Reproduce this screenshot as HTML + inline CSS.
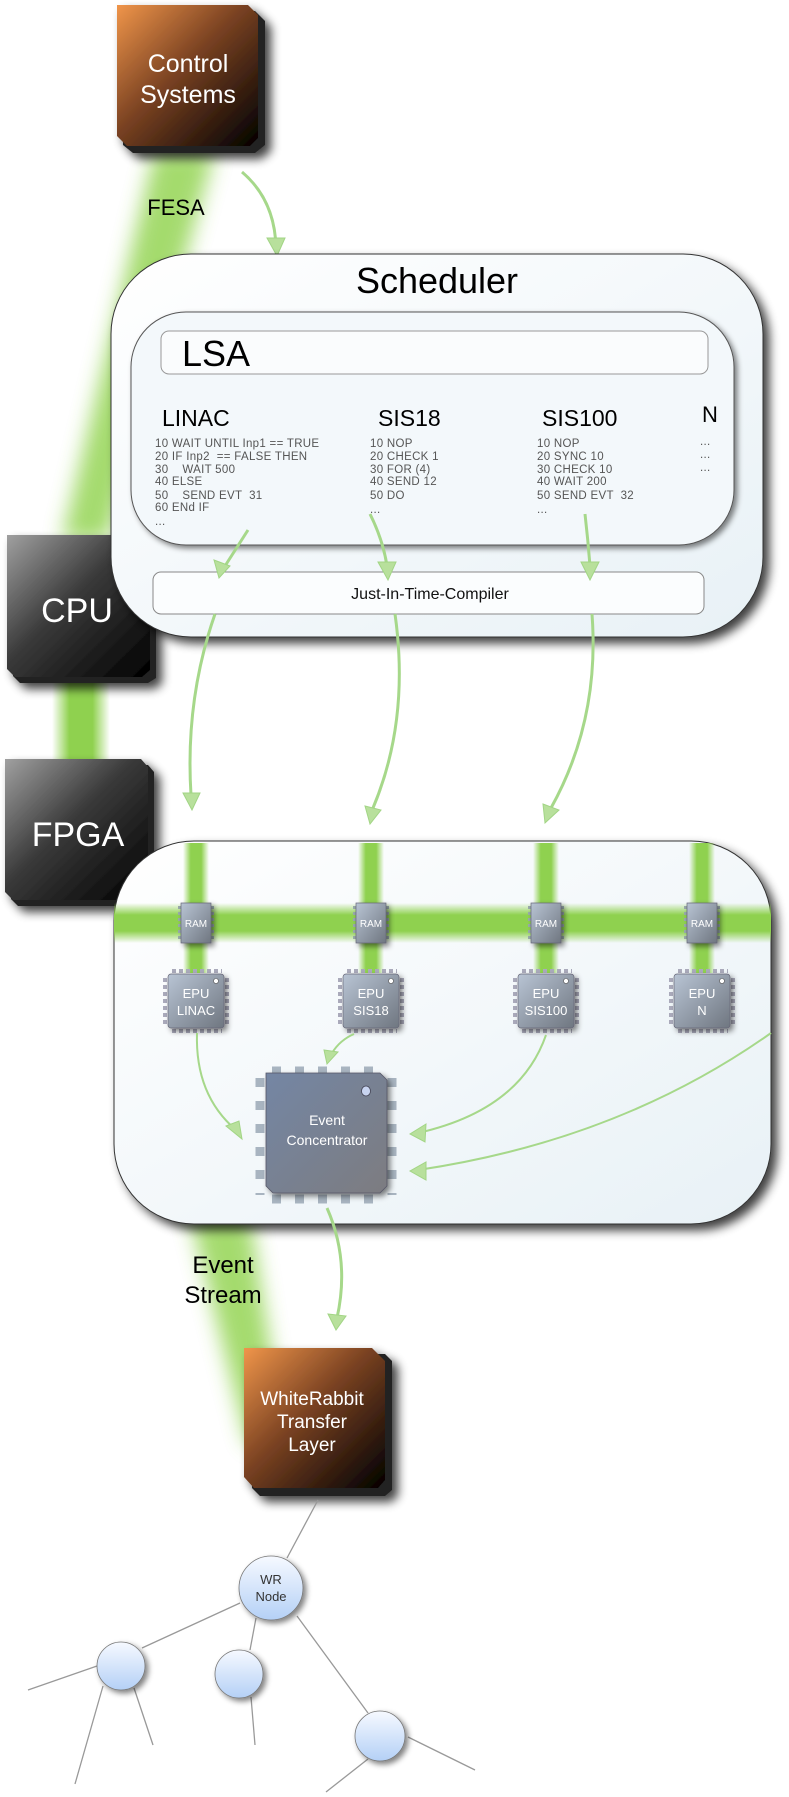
<!DOCTYPE html>
<html><head><meta charset="utf-8"><style>
html,body{margin:0;padding:0;background:#fff;}
svg{display:block;font-family:"Liberation Sans",sans-serif;}
.code text{white-space:pre;}
</style></head><body>
<svg width="789" height="1797" viewBox="0 0 789 1797" xmlns="http://www.w3.org/2000/svg">
<defs>
<filter id="blur" x="-50%" y="-20%" width="200%" height="140%"><feGaussianBlur stdDeviation="10"/></filter>
<filter id="sh" x="-10%" y="-10%" width="130%" height="130%"><feGaussianBlur in="SourceAlpha" stdDeviation="5"/><feOffset dx="6" dy="6"/><feComponentTransfer><feFuncA type="linear" slope="0.75"/></feComponentTransfer><feMerge><feMergeNode/><feMergeNode in="SourceGraphic"/></feMerge></filter>
<filter id="sh2" x="-20%" y="-20%" width="150%" height="150%"><feGaussianBlur in="SourceAlpha" stdDeviation="3"/><feOffset dx="3" dy="3"/><feComponentTransfer><feFuncA type="linear" slope="0.5"/></feComponentTransfer><feMerge><feMergeNode/><feMergeNode in="SourceGraphic"/></feMerge></filter>
<linearGradient id="org" x1="0" y1="0" x2="1" y2="1"><stop offset="0" stop-color="#f0954a"/><stop offset="0.45" stop-color="#7a4222"/><stop offset="1" stop-color="#000"/></linearGradient>
<linearGradient id="blk" x1="0" y1="0" x2="1" y2="1"><stop offset="0" stop-color="#a0a0a0"/><stop offset="0.45" stop-color="#3a3a3a"/><stop offset="1" stop-color="#000"/></linearGradient>
<linearGradient id="panel" x1="0" y1="0" x2="1" y2="1"><stop offset="0" stop-color="#ffffff"/><stop offset="1" stop-color="#e8f1f6"/></linearGradient>
<linearGradient id="chip" x1="0" y1="0" x2="1" y2="1"><stop offset="0" stop-color="#b8c4d4"/><stop offset="1" stop-color="#6f7680"/></linearGradient>
<linearGradient id="chip2" x1="0" y1="0" x2="1" y2="1"><stop offset="0" stop-color="#7486a4"/><stop offset="1" stop-color="#7c7c80"/></linearGradient>
<linearGradient id="node" x1="0" y1="0" x2="0" y2="1"><stop offset="0" stop-color="#f6f9ff"/><stop offset="1" stop-color="#b4d0f6"/></linearGradient>
<linearGradient id="hbus" x1="0" y1="0" x2="0" y2="1"><stop offset="0" stop-color="#8fd14f" stop-opacity="0"/><stop offset="0.3" stop-color="#8fd14f"/><stop offset="0.7" stop-color="#8fd14f"/><stop offset="1" stop-color="#8fd14f" stop-opacity="0"/></linearGradient>
<linearGradient id="vbus" x1="0" y1="0" x2="1" y2="0"><stop offset="0" stop-color="#8fd14f" stop-opacity="0"/><stop offset="0.3" stop-color="#8fd14f"/><stop offset="0.7" stop-color="#8fd14f"/><stop offset="1" stop-color="#8fd14f" stop-opacity="0"/></linearGradient>
</defs>

<!-- green beams -->
<polygon points="155,150 215,150 108,540 62,540" fill="#86cf3e" filter="url(#blur)" opacity="0.75"/>
<rect x="52" y="680" width="58" height="84" fill="url(#vbus)"/>
<polygon points="190,1215 250,1215 285,1445 248,1445" fill="#86cf3e" filter="url(#blur)" opacity="0.75"/>

<!-- Control Systems -->
<g filter="url(#sh)">
<polygon points="123,11 255,11 265,21 265,145 255,153 133,153 123,145" fill="#222"/>
<polygon points="117,5 248,5 258,15 258,138 250,146 127,146 117,136" fill="url(#org)"/>
</g>
<text x="188" y="72" font-size="25" fill="#fff" text-anchor="middle">Control</text>
<text x="188" y="103" font-size="25" fill="#fff" text-anchor="middle">Systems</text>
<text x="176" y="215" font-size="22" fill="#000" text-anchor="middle">FESA</text>
<path d="M242,172 Q275,200 276,248" fill="none" stroke="#a6d88a" stroke-width="3"/>
<polygon points="267,238 285,238 277,256" fill="#b8e09c" stroke="#a2d585"/>

<!-- CPU -->
<g filter="url(#sh)">
<polygon points="13,541 150,541 156,548 156,678 148,683 20,683 13,676" fill="#222"/>
<polygon points="7,535 143,535 150,543 150,670 142,677 15,677 7,669" fill="url(#blk)"/>
</g>
<text x="77" y="622" font-size="34" fill="#fff" text-anchor="middle">CPU</text>

<!-- Scheduler panel -->
<rect x="111" y="254" width="652" height="383" rx="80" ry="80" fill="url(#panel)" stroke="#333" stroke-width="1" filter="url(#sh)"/>
<text x="437" y="293" font-size="36" fill="#000" text-anchor="middle">Scheduler</text>
<rect x="131" y="312" width="603" height="233" rx="55" ry="55" fill="#f3f8fb" stroke="#555" stroke-width="1" filter="url(#sh2)"/>
<rect x="161" y="331" width="547" height="43" rx="8" fill="#fafcfd" stroke="#999" stroke-width="1"/>
<text x="182" y="366" font-size="36" fill="#000">LSA</text>
<text x="162" y="426" font-size="23" fill="#000">LINAC</text>
<text x="378" y="426" font-size="23" fill="#000">SIS18</text>
<text x="542" y="426" font-size="23" fill="#000">SIS100</text>
<text x="702" y="422" font-size="22" fill="#000">N</text>
<g class="code" font-size="11.5" fill="#555" letter-spacing="0.3">
<text x="155" y="447" xml:space="preserve">10 WAIT UNTIL Inp1 == TRUE</text>
<text x="155" y="460" xml:space="preserve">20 IF Inp2  == FALSE THEN</text>
<text x="155" y="473" xml:space="preserve">30    WAIT 500</text>
<text x="155" y="485" xml:space="preserve">40 ELSE</text>
<text x="155" y="499" xml:space="preserve">50    SEND EVT  31</text>
<text x="155" y="511" xml:space="preserve">60 ENd IF</text>
<text x="155" y="525">...</text>
<text x="370" y="447">10 NOP</text>
<text x="370" y="460">20 CHECK 1</text>
<text x="370" y="473">30 FOR (4)</text>
<text x="370" y="485">40 SEND 12</text>
<text x="370" y="499">50 DO</text>
<text x="370" y="513">...</text>
<text x="537" y="447">10 NOP</text>
<text x="537" y="460">20 SYNC 10</text>
<text x="537" y="473">30 CHECK 10</text>
<text x="537" y="485">40 WAIT 200</text>
<text x="537" y="499" xml:space="preserve">50 SEND EVT  32</text>
<text x="537" y="513">...</text>
<text x="700" y="445">...</text>
<text x="700" y="458">...</text>
<text x="700" y="471">...</text>
</g>
<rect x="153" y="572" width="551" height="42" rx="8" fill="#fbfdfe" stroke="#888" stroke-width="1"/>
<text x="430" y="599" font-size="16" fill="#111" text-anchor="middle">Just-In-Time-Compiler</text>

<!-- arrows in scheduler -->
<g fill="none" stroke="#a6d88a" stroke-width="3">
<path d="M248,530 L225,566"/>
<path d="M370,514 Q383,540 387,566"/>
<path d="M585,514 Q588,540 590,566"/>
<path d="M215,614 Q185,700 191,795"/>
<path d="M395,614 Q410,720 373,808"/>
<path d="M592,614 Q600,720 551,808"/>
</g>
<g fill="#b8e09c" stroke="#a2d585">
<polygon points="214,560 230,566 219,578"/>
<polygon points="378,562 396,562 388,580"/>
<polygon points="581,562 599,562 590,580"/>
<polygon points="183,793 200,793 192,810"/>
<polygon points="365,806 381,810 370,824"/>
<polygon points="543,804 559,810 545,823"/>
</g>

<!-- FPGA -->
<g filter="url(#sh)">
<polygon points="11,765 148,765 154,772 154,900 146,906 18,906 11,899" fill="#222"/>
<polygon points="5,759 141,759 148,767 148,893 140,900 13,900 5,892" fill="url(#blk)"/>
</g>
<text x="78" y="846" font-size="34" fill="#fff" text-anchor="middle">FPGA</text>

<!-- FPGA panel -->
<rect x="114" y="841" width="657" height="383" rx="80" ry="80" fill="url(#panel)" stroke="#333" stroke-width="1" filter="url(#sh)"/>
<rect x="114" y="903" width="657" height="40" fill="url(#hbus)"/>
<g>
<rect x="183" y="843" width="26" height="130" fill="url(#vbus)"/>
<rect x="358" y="843" width="26" height="130" fill="url(#vbus)"/>
<rect x="533" y="843" width="26" height="130" fill="url(#vbus)"/>
<rect x="689" y="843" width="26" height="130" fill="url(#vbus)"/>
</g>
<!-- RAM chips -->
<g font-size="10" fill="#fff" text-anchor="middle">
<g transform="translate(180,903)"><line x1="0" y1="3" x2="0" y2="38" stroke="#9aa" stroke-width="4" stroke-dasharray="3 3"/><line x1="32" y1="3" x2="32" y2="38" stroke="#9aa" stroke-width="4" stroke-dasharray="3 3"/><rect x="1" y="0" width="30" height="40" fill="url(#chip)" stroke="#667" stroke-width="0.7" filter="url(#sh2)"/><text x="16" y="24">RAM</text></g>
<g transform="translate(355,903)"><line x1="0" y1="3" x2="0" y2="38" stroke="#9aa" stroke-width="4" stroke-dasharray="3 3"/><line x1="32" y1="3" x2="32" y2="38" stroke="#9aa" stroke-width="4" stroke-dasharray="3 3"/><rect x="1" y="0" width="30" height="40" fill="url(#chip)" stroke="#667" stroke-width="0.7" filter="url(#sh2)"/><text x="16" y="24">RAM</text></g>
<g transform="translate(530,903)"><line x1="0" y1="3" x2="0" y2="38" stroke="#9aa" stroke-width="4" stroke-dasharray="3 3"/><line x1="32" y1="3" x2="32" y2="38" stroke="#9aa" stroke-width="4" stroke-dasharray="3 3"/><rect x="1" y="0" width="30" height="40" fill="url(#chip)" stroke="#667" stroke-width="0.7" filter="url(#sh2)"/><text x="16" y="24">RAM</text></g>
<g transform="translate(686,903)"><line x1="0" y1="3" x2="0" y2="38" stroke="#9aa" stroke-width="4" stroke-dasharray="3 3"/><line x1="32" y1="3" x2="32" y2="38" stroke="#9aa" stroke-width="4" stroke-dasharray="3 3"/><rect x="1" y="0" width="30" height="40" fill="url(#chip)" stroke="#667" stroke-width="0.7" filter="url(#sh2)"/><text x="16" y="24">RAM</text></g>
</g>
<!-- EPU chips -->
<g font-size="13" fill="#fff" text-anchor="middle">
<g transform="translate(164,970)">
<g stroke="#aab" stroke-width="4" stroke-dasharray="4 3"><line x1="8" y1="1" x2="58" y2="1"/><line x1="8" y1="61" x2="58" y2="61"/><line x1="1" y1="8" x2="1" y2="56"/><line x1="63" y1="8" x2="63" y2="56"/></g>
<rect x="4" y="4" width="56" height="54" rx="3" fill="url(#chip)" stroke="#667" stroke-width="0.7" filter="url(#sh2)"/><circle cx="52" cy="11" r="2.5" fill="#fff" stroke="#555" stroke-width="0.6"/>
<text x="32" y="28">EPU</text><text x="32" y="45">LINAC</text></g>
<g transform="translate(339,970)">
<g stroke="#aab" stroke-width="4" stroke-dasharray="4 3"><line x1="8" y1="1" x2="58" y2="1"/><line x1="8" y1="61" x2="58" y2="61"/><line x1="1" y1="8" x2="1" y2="56"/><line x1="63" y1="8" x2="63" y2="56"/></g>
<rect x="4" y="4" width="56" height="54" rx="3" fill="url(#chip)" stroke="#667" stroke-width="0.7" filter="url(#sh2)"/><circle cx="52" cy="11" r="2.5" fill="#fff" stroke="#555" stroke-width="0.6"/>
<text x="32" y="28">EPU</text><text x="32" y="45">SIS18</text></g>
<g transform="translate(514,970)">
<g stroke="#aab" stroke-width="4" stroke-dasharray="4 3"><line x1="8" y1="1" x2="58" y2="1"/><line x1="8" y1="61" x2="58" y2="61"/><line x1="1" y1="8" x2="1" y2="56"/><line x1="63" y1="8" x2="63" y2="56"/></g>
<rect x="4" y="4" width="56" height="54" rx="3" fill="url(#chip)" stroke="#667" stroke-width="0.7" filter="url(#sh2)"/><circle cx="52" cy="11" r="2.5" fill="#fff" stroke="#555" stroke-width="0.6"/>
<text x="32" y="28">EPU</text><text x="32" y="45">SIS100</text></g>
<g transform="translate(670,970)">
<g stroke="#aab" stroke-width="4" stroke-dasharray="4 3"><line x1="8" y1="1" x2="58" y2="1"/><line x1="8" y1="61" x2="58" y2="61"/><line x1="1" y1="8" x2="1" y2="56"/><line x1="63" y1="8" x2="63" y2="56"/></g>
<rect x="4" y="4" width="56" height="54" rx="3" fill="url(#chip)" stroke="#667" stroke-width="0.7" filter="url(#sh2)"/><circle cx="52" cy="11" r="2.5" fill="#fff" stroke="#555" stroke-width="0.6"/>
<text x="32" y="28">EPU</text><text x="32" y="45">N</text></g>
</g>

<!-- Event Concentrator -->
<g stroke="#a8b4c0" stroke-width="9" stroke-dasharray="9 14">
<line x1="272" y1="1071" x2="385" y2="1071"/>
<line x1="272" y1="1199" x2="385" y2="1199"/>
<line x1="260" y1="1078" x2="260" y2="1195"/>
<line x1="392" y1="1078" x2="392" y2="1195"/>
</g>
<polygon points="266,1073 380,1073 387,1080 387,1186 380,1193 273,1193 266,1186" fill="url(#chip2)" stroke="#556" stroke-width="0.8" filter="url(#sh2)"/>
<ellipse cx="366" cy="1091" rx="4.5" ry="5" fill="#c8d4f0" stroke="#445" stroke-width="0.8"/>
<text x="327" y="1125" font-size="14" fill="#fff" text-anchor="middle">Event</text>
<text x="327" y="1145" font-size="14" fill="#fff" text-anchor="middle">Concentrator</text>

<g fill="none" stroke="#a6d88a" stroke-width="2">
<path d="M197,1033 Q195,1095 236,1130"/>
<path d="M354,1034 Q340,1040 332,1053"/>
<path d="M546,1035 Q520,1110 418,1133"/>
<path d="M771,1033 Q620,1140 418,1170"/>
</g>
<g fill="#b8e09c" stroke="#a2d585">
<polygon points="226,1126 239,1121 242,1139"/>
<polygon points="324,1050 338,1052 327,1064"/>
<polygon points="426,1124 425,1142 410,1134"/>
<polygon points="426,1162 426,1180 410,1171"/>
</g>
<path d="M327,1208 Q350,1260 337,1318" fill="none" stroke="#a6d88a" stroke-width="3"/>
<polygon points="328,1314 346,1316 336,1330" fill="#b8e09c" stroke="#a2d585"/>

<text x="223" y="1273" font-size="24" fill="#000" text-anchor="middle">Event</text>
<text x="223" y="1303" font-size="24" fill="#000" text-anchor="middle">Stream</text>

<!-- WhiteRabbit -->
<g filter="url(#sh)">
<polygon points="250,1354 385,1354 392,1361 392,1490 385,1496 260,1496 252,1488" fill="#222"/>
<polygon points="244,1348 372,1348 385,1361 385,1480 378,1488 254,1488 244,1477" fill="url(#org)"/>
</g>
<text x="312" y="1405" font-size="19" fill="#fff" text-anchor="middle">WhiteRabbit</text>
<text x="312" y="1428" font-size="19" fill="#fff" text-anchor="middle">Transfer</text>
<text x="312" y="1451" font-size="19" fill="#fff" text-anchor="middle">Layer</text>

<!-- tree -->
<g stroke="#999" stroke-width="1.3">
<line x1="318" y1="1500" x2="287" y2="1558"/>
<line x1="240" y1="1603" x2="142" y2="1648"/>
<line x1="256" y1="1618" x2="250" y2="1650"/>
<line x1="297" y1="1616" x2="368" y2="1713"/>
<line x1="97" y1="1666" x2="28" y2="1690"/>
<line x1="103" y1="1686" x2="75" y2="1784"/>
<line x1="134" y1="1688" x2="153" y2="1745"/>
<line x1="251" y1="1697" x2="255" y2="1745"/>
<line x1="408" y1="1737" x2="475" y2="1770"/>
<line x1="368" y1="1759" x2="326" y2="1792"/>
</g>
<g stroke="#777" stroke-width="0.8" fill="url(#node)" filter="url(#sh2)">
<ellipse cx="271" cy="1588" rx="32" ry="32"/>
<ellipse cx="121" cy="1666" rx="24" ry="24"/>
<ellipse cx="239" cy="1674" rx="24" ry="24"/>
<ellipse cx="380" cy="1736" rx="25" ry="25"/>
</g>
<text x="271" y="1584" font-size="13" fill="#333" text-anchor="middle">WR</text>
<text x="271" y="1601" font-size="13" fill="#333" text-anchor="middle">Node</text>
</svg>
</body></html>
